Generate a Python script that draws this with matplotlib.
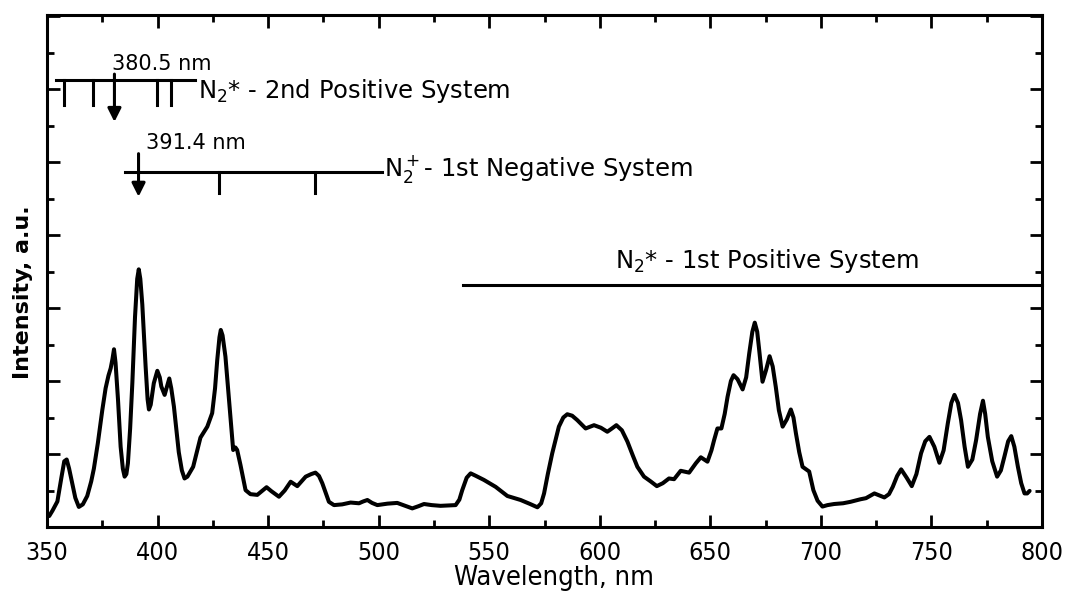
import matplotlib
matplotlib.use("Agg")
import matplotlib.pyplot as plt
from matplotlib.ticker import MultipleLocator

plt.rcParams["mathtext.fontset"] = "dejavusans"

# Emission spectrum of the nitrogen discharge (intensity in arbitrary units)
wavelength = [
    351.0, 352.5, 354.7, 356.5, 357.8, 358.9, 360.0, 361.4, 362.8, 364.4,
    366.2, 368.2, 370.0, 371.2, 373.0, 375.0, 376.5, 377.8, 378.8, 379.6,
    380.3, 381.0, 382.1, 383.3, 384.3, 385.1, 385.9, 386.6, 387.6, 388.6,
    389.8, 390.8, 391.5, 392.2, 393.1, 394.6, 395.5, 396.1, 396.9, 398.3,
    399.9, 401.0, 401.7, 403.2, 404.5, 405.3, 406.2, 407.4, 409.6, 411.0,
    412.2, 413.5, 416.1, 419.4, 422.5, 424.7, 426.0, 427.0, 428.0, 428.6,
    429.4, 430.7, 432.7, 434.2, 435.2, 436.0, 437.5, 439.8, 442.0, 445.1,
    447.5, 449.3, 451.5, 454.9, 457.5, 460.2, 463.2, 467.0, 469.5, 471.4,
    473.0, 474.5, 477.5, 479.8, 483.5, 487.3, 491.1, 493.0, 494.9, 497.0,
    499.4, 504.0, 508.4, 512.0, 515.2, 518.0, 520.5, 524.0, 528.0, 531.5,
    534.8, 536.5, 537.8, 539.8, 541.6, 544.0, 547.6, 552.9, 558.2, 564.2,
    568.5, 571.8, 573.5, 574.8, 576.5, 578.5, 581.5, 583.5, 585.3, 587.5,
    589.8, 593.6, 597.4, 600.5, 603.4, 605.5, 607.5, 610.0, 612.5, 615.0,
    617.0, 620.0, 623.0, 625.8, 628.5, 631.3, 633.6, 636.6, 640.4, 643.5,
    645.7, 648.7, 650.5, 651.7, 653.2, 655.0, 656.5, 657.8, 659.3, 660.5,
    662.3, 664.6, 666.2, 667.6, 669.0, 670.1, 671.2, 672.1, 673.6, 675.2,
    676.8, 678.2, 679.6, 681.0, 682.7, 684.6, 686.4, 687.6, 688.7, 690.2,
    691.7, 694.7, 696.6, 698.5, 700.7, 703.0, 706.0, 710.0, 713.4, 717.9,
    720.4, 724.2, 728.7, 730.8, 732.5, 734.5, 736.3, 738.8, 741.1, 743.2,
    745.3, 747.2, 749.1, 751.3, 753.6, 755.5, 757.4, 759.0, 760.4, 762.0,
    763.4, 765.0, 766.5, 768.5, 770.2, 772.0, 773.3, 774.3, 775.5, 777.5,
    779.7, 781.4, 783.0, 784.7, 786.1, 787.5, 789.1, 790.6, 792.1, 793.3,
    794.4,
]
intensity = [
    0.30, 0.45, 0.70, 1.35, 1.80, 1.85, 1.60, 1.20, 0.80, 0.55,
    0.62, 0.85, 1.25, 1.60, 2.30, 3.20, 3.80, 4.15, 4.35, 4.60,
    4.87, 4.50, 3.50, 2.20, 1.60, 1.38, 1.45, 1.75, 2.70, 3.95,
    5.75, 6.80, 7.06, 6.80, 6.10, 4.40, 3.50, 3.22, 3.35, 3.94,
    4.28, 4.10, 3.85, 3.62, 3.90, 4.07, 3.80, 3.30, 2.05, 1.55,
    1.33, 1.38, 1.65, 2.45, 2.75, 3.12, 3.80, 4.58, 5.20, 5.40,
    5.25, 4.67, 3.21, 2.11, 2.18, 2.11, 1.70, 1.01, 0.90, 0.88,
    1.00, 1.09, 0.98, 0.83, 1.00, 1.24, 1.12, 1.38, 1.45, 1.49,
    1.40, 1.20, 0.69, 0.60, 0.62, 0.67, 0.65, 0.70, 0.74, 0.66,
    0.60, 0.64, 0.66, 0.58, 0.51, 0.57, 0.63, 0.60, 0.58, 0.59,
    0.60, 0.75, 1.01, 1.35, 1.47, 1.40, 1.29, 1.10, 0.85, 0.74,
    0.63, 0.54, 0.65, 0.92, 1.45, 2.02, 2.75, 3.00, 3.09, 3.05,
    2.93, 2.70, 2.79, 2.72, 2.61, 2.70, 2.79, 2.65, 2.34, 1.95,
    1.65, 1.38, 1.25, 1.12, 1.20, 1.33, 1.31, 1.54, 1.49, 1.75,
    1.91, 1.79, 2.10, 2.38, 2.70, 2.70, 3.10, 3.57, 4.00, 4.16,
    4.05, 3.77, 4.10, 4.76, 5.35, 5.60, 5.35, 4.85, 3.98, 4.30,
    4.68, 4.40, 3.84, 3.20, 2.75, 2.95, 3.22, 3.00, 2.57, 2.05,
    1.65, 1.52, 1.01, 0.72, 0.56, 0.60, 0.63, 0.65, 0.69, 0.76,
    0.79, 0.92, 0.81, 0.90, 1.10, 1.40, 1.58, 1.35, 1.12, 1.45,
    2.02, 2.35, 2.47, 2.20, 1.76, 2.10, 2.84, 3.40, 3.62, 3.40,
    2.93, 2.20, 1.65, 1.85, 2.38, 3.10, 3.46, 3.10, 2.47, 1.80,
    1.38, 1.55, 1.93, 2.35, 2.49, 2.20, 1.65, 1.20, 0.92, 0.92,
    0.99,
]

# Band heads marked above the spectrum
second_positive_span = [354.0, 417.0]
second_positive_bands = [357.7, 371.0, 399.8, 405.9]
second_positive_head = 380.5
first_negative_span = [385.5, 501.5]
first_negative_bands = [428.0, 471.0]
first_negative_head = 391.4
first_positive_span = [538.0, 800.0]

x_ticks = [350, 400, 450, 500, 550, 600, 650, 700, 750, 800]

fig = plt.figure(figsize=(10.7, 5.96), dpi=100)
ax = fig.add_axes([47 / 1070, 1 - 527 / 596, 995 / 1070, 512 / 596])

ax.plot(wavelength, intensity, color="black", lw=2.9,
        solid_joinstyle="round", solid_capstyle="round")

ax.set_xlim(350, 800)
ax.set_ylim(0, 14.03)
ax.set_xticks(x_ticks)
ax.set_xticklabels([str(t) for t in x_ticks])
ax.xaxis.set_minor_locator(MultipleLocator(25))
ax.yaxis.set_major_locator(MultipleLocator(2))
ax.yaxis.set_minor_locator(MultipleLocator(1))
ax.set_yticklabels([])

for s in ax.spines.values():
    s.set_linewidth(2.2)
ax.tick_params(which="both", direction="in", top=True, right=True, width=2.0)
ax.tick_params(which="major", length=9)
ax.tick_params(which="minor", length=5)
ax.tick_params(axis="y", which="both", labelleft=False)
ax.tick_params(axis="x", which="major", pad=10)

for lab in ax.get_xticklabels():
    lab.set_fontfamily("DejaVu Sans")
    lab.set_fontstretch("condensed")
    lab.set_fontsize(18)

ax.set_xlabel("Wavelength, nm", family="DejaVu Sans", stretch="condensed",
              fontsize=19.5, labelpad=0)
ax.xaxis.set_label_coords(0.51, -0.075)
ax.set_ylabel("Intensity, a.u.", family="DejaVu Sans", fontweight="bold",
              fontsize=16)
ax.yaxis.set_label_coords(-0.014, 0.459)

lw_ann = 2.2
sys_fs = 17.5
nm_fs = 15

# N2* second positive system
y2 = 12.25
ax.plot(second_positive_span, [y2, y2], color="black", lw=lw_ann)
for b in second_positive_bands:
    ax.plot([b, b], [y2, 11.56], color="black", lw=lw_ann)
ax.annotate("", xy=(second_positive_head, 11.1),
            xytext=(second_positive_head, 12.41),
            arrowprops=dict(arrowstyle="-|>", color="black", lw=lw_ann,
                            mutation_scale=20, shrinkA=0, shrinkB=0))
ax.text(second_positive_head - 1.3, 12.52, f"{second_positive_head} nm",
        fontsize=nm_fs, ha="left", va="baseline")
ax.text(418.5, 11.75, r"N$_2$* - 2nd Positive System", fontsize=sys_fs,
        ha="left", va="baseline")

# N2+ first negative system
y1 = 9.73
ax.plot(first_negative_span, [y1, y1], color="black", lw=lw_ann)
for b in first_negative_bands:
    ax.plot([b, b], [y1, 9.15], color="black", lw=lw_ann)
ax.annotate("", xy=(first_negative_head, 9.05),
            xytext=(first_negative_head, 10.23),
            arrowprops=dict(arrowstyle="-|>", color="black", lw=lw_ann,
                            mutation_scale=20, shrinkA=0, shrinkB=0))
ax.text(first_negative_head + 3.2, 10.37, f"{first_negative_head} nm",
        fontsize=nm_fs, ha="left", va="baseline")
ax.text(502.6, 9.62, r"N$_2^+$- 1st Negative System", fontsize=sys_fs,
        ha="left", va="baseline")

# N2* first positive system
yp = 6.64
ax.plot(first_positive_span, [yp, yp], color="black", lw=lw_ann,
        clip_on=False)
ax.text(607.0, 7.1, r"N$_2$* - 1st Positive System", fontsize=sys_fs,
        ha="left", va="baseline")

fig.savefig("out.png", dpi=100, facecolor="white")
